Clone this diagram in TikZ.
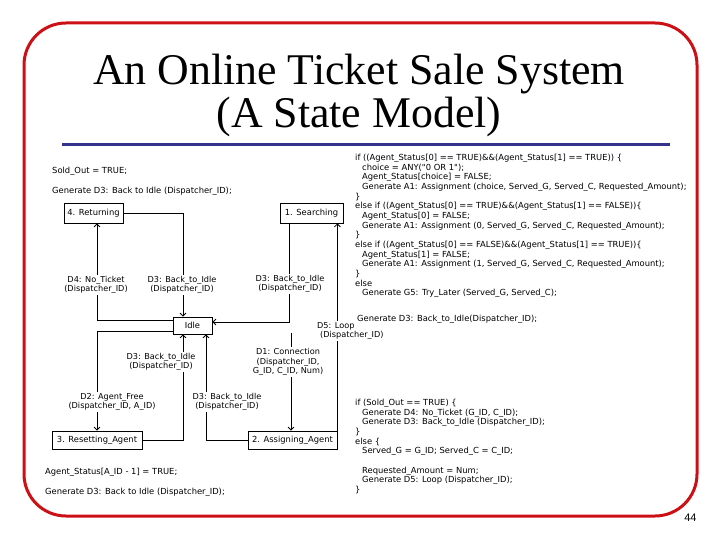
\documentclass[tikz,border=0pt]{standalone}
\usepackage{fontspec}
\setmainfont{Liberation Serif}
\newfontfamily\codefont{DejaVu Sans}
\newfontfamily\pagefont{Liberation Sans}
\usetikzlibrary{arrows.meta}
\definecolor{framered}{RGB}{204,16,22}
\definecolor{ruleblue}{RGB}{51,51,140}
\newcommand{\codeind}{\hspace*{7bp}}

\tikzset{
  statebox/.style={rectangle, draw, line width=0.8bp, fill=white, inner sep=0pt,
    font=\codefont\fontsize{8.4}{9.7}\selectfont},
  evlabel/.style={fill=white, align=center, inner sep=1bp,
    font=\codefont\fontsize{8.2}{9.6}\selectfont},
  codetext/.style={anchor=north west, align=left, inner sep=0pt,
    font=\codefont\fontsize{8.4}{9.7}\selectfont},
  trans/.style={draw, line width=0.8bp, -{Straight Barb[length=3bp,width=6bp]}},
}

\begin{document}
\begin{tikzpicture}[x=1bp, y=-1bp]
  \useasboundingbox (0,0) rectangle (720,540);

  % Slide frame and title
  \draw[framered, line width=3bp, rounded corners=42bp] (24,23) rectangle (697,516);
  \node[anchor=base, font=\fontsize{44}{43}\selectfont] (title1) at (359,85) {An Online Ticket Sale System};
  \node[anchor=base, font=\fontsize{44}{43}\selectfont] (title2) at (359,128) {(A State Model)};
  \draw[ruleblue, line width=3bp] (62,145) -- (670,145);

  % States
  \node[statebox, minimum width=59bp, minimum height=20bp] (ret) at (93.5,213) {4. Returning};
  \node[statebox, minimum width=63bp, minimum height=20bp] (srch) at (311.5,213) {1. Searching};
  \node[statebox, minimum width=39bp, minimum height=17bp] (idle) at (192.5,325.5) {Idle};
  \node[statebox, minimum width=90bp, minimum height=18bp] (reset) at (97,440) {3. Resetting\_Agent};
  \node[statebox, minimum width=89bp, minimum height=18bp] (assign) at (292.5,440) {2. Assigning\_Agent};
  \coordinate (d1in) at (291,333);

  % Transitions
  \draw[trans] (ret.east) -| ([xshift=-9.5bp]idle.north);
  \draw[trans] ([yshift=5.5bp]idle.west) -| ([xshift=3.5bp]ret.south);
  \draw[trans] ([yshift=-5.5bp]idle.west) -| (reset.north);
  \draw[trans] (reset.east) -| ([xshift=-9.5bp]idle.south);
  \draw[trans] (assign.west) -| ([xshift=13.5bp]idle.south);
  \draw[trans] ([xshift=-22.5bp]srch.south) |- ([yshift=3.5bp]idle.east);
  \draw[trans] (assign.east) -- (assign.east |- srch.south);
  \draw[trans] (d1in) -- (d1in |- assign.north);

  % Event labels
  \node[evlabel] (lbld4) at (96,285) {D4: No\_Ticket\\(Dispatcher\_ID)};
  \node[evlabel] (lbld3a) at (182,285) {D3: Back\_to\_Idle\\(Dispatcher\_ID)};
  \node[evlabel] (lbld3b) at (290,284) {D3: Back\_to\_Idle\\(Dispatcher\_ID)};
  \node[evlabel] (lbld3c) at (161,362) {D3: Back\_to\_Idle\\(Dispatcher\_ID)};
  \node[evlabel] (lbld1) at (288,362) {D1: Connection\\(Dispatcher\_ID,\\G\_ID, C\_ID, Num)};
  \node[evlabel] (lbld2) at (112,402) {D2: Agent\_Free\\(Dispatcher\_ID, A\_ID)};
  \node[evlabel] (lbld3d) at (227,402) {D3: Back\_to\_Idle\\(Dispatcher\_ID)};
  \node[evlabel, align=left, anchor=west] (lbld5) at (316,331) {D5: Loop\\\hspace*{3bp}(Dispatcher\_ID)};

  % Actions of the states
  \node[codetext] (actret) at (52,167) {Sold\_Out = TRUE;\\[10bp]
    Generate D3: Back to Idle (Dispatcher\_ID);};
  \node[codetext] (actreset) at (45,468) {Agent\_Status[A\_ID - 1] = TRUE;\\[10bp]
    Generate D3: Back to Idle (Dispatcher\_ID);};
  \node[codetext] (actassign) at (355,154) {if ((Agent\_Status[0] == TRUE)\&\&(Agent\_Status[1] == TRUE)) \{\\
    \codeind choice = ANY("0 OR 1");\\
    \codeind Agent\_Status[choice] = FALSE;\\
    \codeind Generate A1: Assignment (choice, Served\_G, Served\_C, Requested\_Amount);\\
    \}\\
    else if ((Agent\_Status[0] == TRUE)\&\&(Agent\_Status[1] == FALSE))\{\\
    \codeind Agent\_Status[0] = FALSE;\\
    \codeind Generate A1: Assignment (0, Served\_G, Served\_C, Requested\_Amount);\\
    \}\\
    else if ((Agent\_Status[0] == FALSE)\&\&(Agent\_Status[1] == TRUE))\{\\
    \codeind Agent\_Status[1] = FALSE;\\
    \codeind Generate A1: Assignment (1, Served\_G, Served\_C, Requested\_Amount);\\
    \}\\
    else\\
    \codeind Generate G5: Try\_Later (Served\_G, Served\_C);\\[16bp]
    \hspace*{2bp}Generate D3: Back\_to\_Idle(Dispatcher\_ID);};
  \node[codetext] (actsrch) at (355,399) {if (Sold\_Out == TRUE) \{\\
    \codeind Generate D4: No\_Ticket (G\_ID, C\_ID);\\
    \codeind Generate D3: Back\_to\_Idle (Dispatcher\_ID);\\
    \}\\
    else \{\\
    \codeind Served\_G = G\_ID; Served\_C = C\_ID;\\[9.7bp]
    \codeind Requested\_Amount = Num;\\
    \codeind Generate D5: Loop (Dispatcher\_ID);\\
    \}};

  % Page number
  \node[anchor=base east, font=\pagefont\fontsize{11}{12}\selectfont] (pagenum) at (700,521) {44};
\end{tikzpicture}
\end{document}
